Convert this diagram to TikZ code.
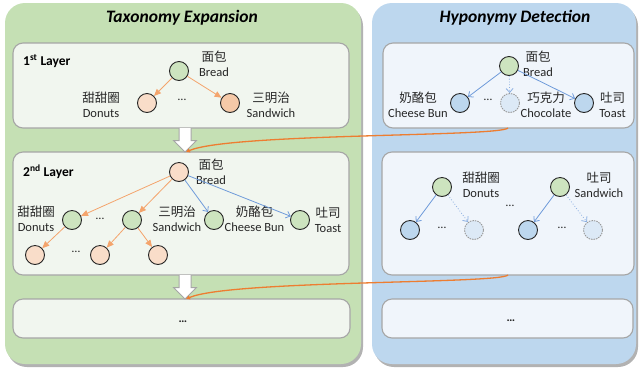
\documentclass[tikz,border=0pt]{standalone}
\usepackage{fontspec}
\setmainfont{Carlito}
\newfontfamily\cjk{Noto Sans CJK SC}
\usetikzlibrary{arrows.meta,shadows,calc}
\definecolor{pgreen}{HTML}{C5E0B4}
\definecolor{pblue}{HTML}{BDD7EE}
\definecolor{lgreen}{HTML}{F1F6EF}
\definecolor{lblue}{HTML}{F0F5FB}
\definecolor{cgreen}{HTML}{CDE4BF}
\definecolor{cpeach}{HTML}{F9DDC9}
\definecolor{cpeachd}{HTML}{F5C9A8}
\definecolor{cblue}{HTML}{BDD7EE}
\definecolor{cbluel}{HTML}{DCE9F6}
\definecolor{aorange}{HTML}{F4A46C}
\definecolor{ablue}{HTML}{6F9BDA}
\definecolor{corange}{HTML}{ED7D31}
\definecolor{bgray}{HTML}{A6A6A6}
\definecolor{txt}{HTML}{262626}
\begin{document}
\begin{tikzpicture}[x=1pt,y=-1pt,
  panel/.style={rounded corners=20pt, inner sep=0pt, outer sep=0pt,
    drop shadow={shadow xshift=2pt,shadow yshift=-3pt,fill=black,opacity=0.3}},
  layerbox/.style={rounded corners=10pt, draw=bgray, line width=1.1pt, inner sep=0pt, outer sep=0pt},
  title/.style={font=\fontsize{17.5}{20}\selectfont\bfseries\itshape, text=black},
  layerlbl/.style={font=\fontsize{13.5}{15}\selectfont\bfseries, anchor=west, inner sep=0pt},
  lbl/.style={font=\fontsize{12.5}{15}\selectfont, align=center, text=txt, inner sep=0pt},
  dots/.style={font=\fontsize{12}{14}\selectfont, text=txt, inner sep=0pt},
  circ/.style={circle, draw=black!85, line width=0.9pt, minimum size=19pt, inner sep=0pt},
  cg/.style={circ, fill=cgreen},
  cp/.style={circ, fill=cpeach},
  cpd/.style={circ, fill=cpeachd},
  cb/.style={circ, fill=cblue},
  cbd/.style={circ, fill=cbluel, draw=gray!80, dash pattern=on 1.5pt off 1pt},
  oarr/.style={draw=aorange, line width=0.8pt, -{Triangle[length=7pt,width=6pt]}},
  barr/.style={draw=ablue, line width=0.8pt, -{Straight Barb[length=4pt,width=7pt]}},
  bdot/.style={draw=ablue!80, line width=0.8pt, dotted, -{Straight Barb[length=4pt,width=7pt]}},
  ocurve/.style={draw=corange, line width=1.3pt, -{Triangle[length=4pt,width=4pt]}},
  bigarrow/.style={fill=white, draw=bgray, line width=1pt, line join=miter}
]
\useasboundingbox (0,0) rectangle (639,373);

% panels
\node[panel, fill=pgreen, minimum width=356pt, minimum height=361pt] (GP) at (183,183.5) {};
\node[panel, fill=pblue, minimum width=264pt, minimum height=361pt] (BP) at (504,183.5) {};

% layer boxes
\node[layerbox, fill=lgreen, minimum width=336pt, minimum height=85pt] (L1) at (181,85.5) {};
\node[layerbox, fill=lgreen, minimum width=336pt, minimum height=123pt] (L2) at (181,213.5) {};
\node[layerbox, fill=lgreen, minimum width=337pt, minimum height=39pt] (L3) at (181.5,318.5) {};
\node[layerbox, fill=lblue, minimum width=251pt, minimum height=85pt] (R1) at (508.5,85.5) {};
\node[layerbox, fill=lblue, minimum width=252pt, minimum height=123pt] (R2) at (508,213.5) {};
\node[layerbox, fill=lblue, minimum width=251pt, minimum height=39pt] (R3) at (507.5,318.5) {};

% titles
\node[title] (T1) at (182,18) {Taxonomy Expansion};
\node[title] (T2) at (515,18) {Hyponymy Detection};
\node[layerlbl] (LL1) at (23,61) {1\textsuperscript{st} Layer};
\node[layerlbl] (LL2) at (23,172) {2\textsuperscript{nd} Layer};

% big white arrows
\draw[bigarrow] (179,128) -- (179,140.5) -- (173.5,140.5) -- (185,152) -- (196.5,140.5) -- (191,140.5) -- (191,128);
\draw[bigarrow] (179,275) -- (179,287.5) -- (173.5,287.5) -- (185,299) -- (196.5,287.5) -- (191,287.5) -- (191,275);

% ---- left layer 1
\node[cg] (a1) at (179,71) {};
\node[lbl] (a1l) at (214,64) {{\cjk 面包}\\Bread};
\node[cp] (a2) at (147,103) {};
\node[lbl, anchor=east] (a2l) at (120,104.5) {{\cjk 甜甜圈}\\Donuts};
\node[dots] (a3) at (182,100) {…};
\node[cpd] (a4) at (230,103) {};
\node[lbl] (a4l) at (271,104.5) {{\cjk 三明治}\\Sandwich};
\draw[oarr] (a1) -- (a2);
\draw[oarr] (a1) -- (a4);

% ---- left layer 2
\node[cp] (b1) at (179,172) {};
\node[lbl] (b1l) at (211,171.5) {{\cjk 面包}\\Bread};
\node[cg] (b2) at (72,220) {};
\node[lbl] (b2l) at (36,219) {{\cjk 甜甜圈}\\Donuts};
\node[dots] (b3) at (100,219) {…};
\node[cg] (b4) at (132,220) {};
\node[lbl] (b4l) at (177,219) {{\cjk 三明治}\\Sandwich};
\node[cg] (b5) at (214,220) {};
\node[lbl] (b5l) at (254.5,219) {{\cjk 奶酪包}\\Cheese Bun};
\node[cg] (b6) at (300,220) {};
\node[lbl] (b6l) at (328,219.5) {{\cjk 吐司}\\Toast};
\node[cp] (c1) at (35,255) {};
\node[dots] (c2) at (76,252) {…};
\node[cp] (c3) at (100,255) {};
\node[cp] (c4) at (158,255) {};
\draw[oarr] (b1) -- (b2);
\draw[oarr] (b1) -- (b4);
\draw[barr] (b1) -- (b5);
\draw[barr] (b1) -- (b6);
\draw[oarr] (b2) -- (c1);
\draw[oarr] (b4) -- (c3);
\draw[oarr] (b4) -- (c4);

% ---- left layer 3
\node[dots, font=\fontsize{12}{14}\selectfont\bfseries] (e1) at (183,322) {…};

% ---- right layer 1
\node[cg] (r1) at (509,66) {};
\node[lbl] (r1l) at (538,64) {{\cjk 面包}\\Bread};
\node[cb] (r2) at (460,103) {};
\node[lbl] (r2l) at (418,105) {{\cjk 奶酪包}\\Cheese Bun};
\node[dots] (r3) at (488,100) {…};
\node[cbd] (r4) at (510,103) {};
\node[lbl] (r4l) at (546,105) {{\cjk 巧克力}\\Chocolate};
\node[cb] (r5) at (584,103) {};
\node[lbl] (r5l) at (612.5,105) {{\cjk 吐司}\\Toast};
\draw[barr] (r1) -- (r2);
\draw[bdot] (r1) -- (r4);
\draw[barr] (r1) -- (r5);

% ---- right layer 2
\node[cg] (s1) at (442,187) {};
\node[lbl] (s1l) at (481,185) {{\cjk 甜甜圈}\\Donuts};
\node[cb] (s2) at (410,230) {};
\node[dots] (s3) at (442,228) {…};
\node[cbd] (s4) at (474,230) {};
\node[dots] (s5) at (510,206) {…};
\node[cg] (t1) at (560,187) {};
\node[lbl] (t1l) at (599,185) {{\cjk 吐司}\\Sandwich};
\node[cb] (t2) at (528,230) {};
\node[dots] (t3) at (562,228) {…};
\node[cbd] (t4) at (593,230) {};
\draw[barr] (s1) -- (s2);
\draw[bdot] (s1) -- (s4);
\draw[barr] (t1) -- (t2);
\draw[bdot] (t1) -- (t4);

% ---- right layer 3
\node[dots, font=\fontsize{12}{14}\selectfont\bfseries] (e2) at (511,321) {…};

% orange feedback curves
\coordinate (f1s) at (508,128);
\coordinate (f1e) at (186,152);
\coordinate (f2s) at (508,275);
\coordinate (f2e) at (186,299);
\draw[ocurve] (f1s) .. controls (500,137) and (230,133) .. (f1e);
\draw[ocurve] (f2s) .. controls (500,284) and (230,280) .. (f2e);
\end{tikzpicture}
\end{document}
